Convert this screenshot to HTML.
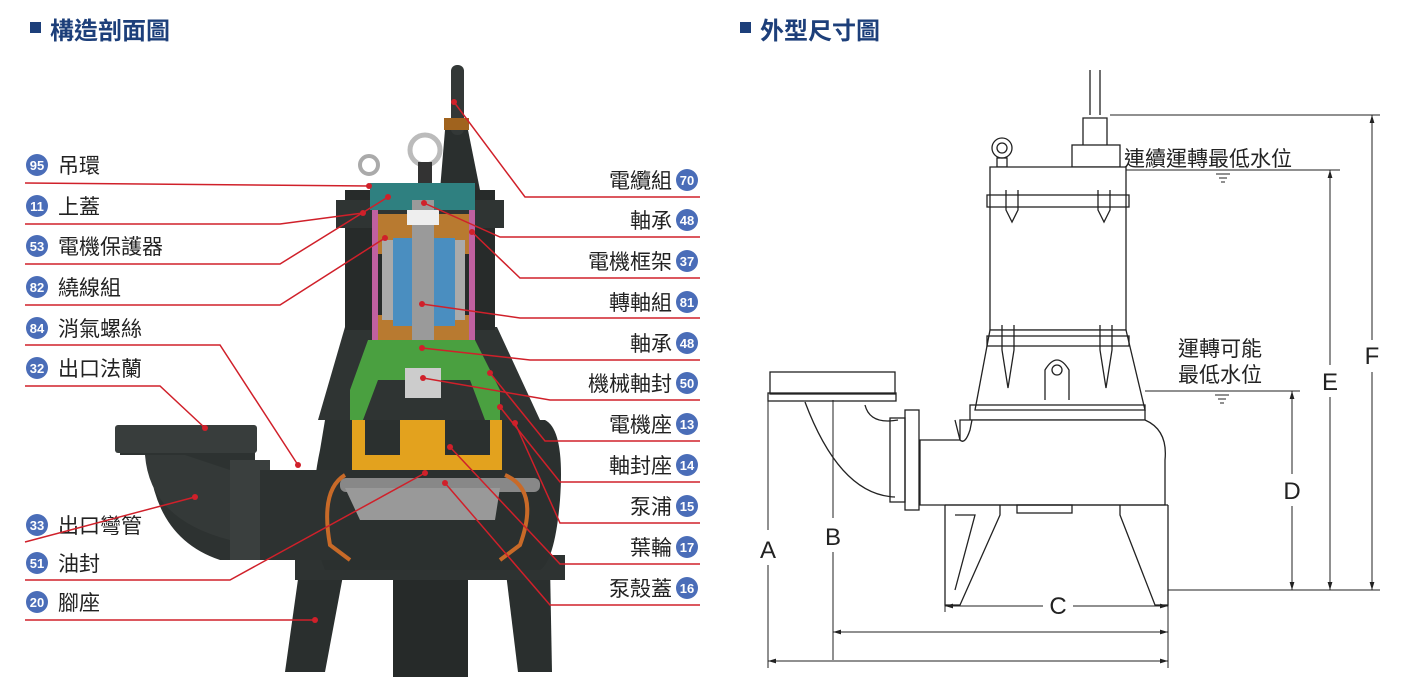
<!DOCTYPE html>
<html><head><meta charset="utf-8"><style>
body{margin:0;width:1423px;height:699px;background:#fff;overflow:hidden;font-family:"Liberation Sans","Noto Sans CJK TC",sans-serif}
svg{position:absolute;left:0;top:0}
</style></head><body>
<svg width="1423" height="699" viewBox="0 0 1423 699" font-family="Liberation Sans, Noto Sans CJK TC, sans-serif">
<defs>
<marker id="ar" viewBox="0 0 10 10" refX="10" refY="5" markerWidth="8" markerHeight="8" orient="auto-start-reverse"><path d="M0 2 L10 5 L0 8 Z" fill="#222"/></marker>
</defs>
<rect x="30" y="22" width="11" height="11" fill="#1d3f7a"/>
<text x="50" y="39" font-size="24" font-weight="bold" fill="#1d3f7a">構造剖面圖</text>
<rect x="740" y="22" width="11" height="11" fill="#1d3f7a"/>
<text x="760" y="39" font-size="24" font-weight="bold" fill="#1d3f7a">外型尺寸圖</text>

<!-- LEFT PUMP -->
<g>
<path d="M300 565 L345 565 L325 672 L285 672 Z" fill="#2a2f2e"/>
<path d="M505 565 L550 565 L552 672 L518 672 Z" fill="#2a2f2e"/>
<rect x="393" y="555" width="75" height="122" fill="#262a29"/>
<rect x="295" y="555" width="270" height="25" fill="#2e3332"/>
<path d="M120 440 L255 440 L255 470 L290 470 L290 560 L220 560 Q160 540 150 470 L150 455 L120 455 Z" fill="#2d3231"/>
<path d="M145 455 Q150 520 230 540 L230 470 L185 455 Z" fill="#343938"/>
<rect x="115" y="425" width="142" height="28" rx="3" fill="#383d3c"/>
<rect x="230" y="460" width="40" height="100" fill="#3a3f3e"/>
<path d="M325 420 L545 420 Q565 430 560 500 Q555 560 540 570 L325 570 Q305 520 320 450 Z" fill="#2b302f"/>
<rect x="260" y="470" width="80" height="90" fill="#2d3231"/>
<path d="M345 327 L497 327 L540 420 L318 420 Z" fill="#2f3433"/>
<rect x="345" y="190" width="150" height="140" fill="#272b2a"/>
<rect x="336" y="200" width="168" height="28" fill="#2f3433"/>
<path d="M440 190 L445 130 L468 130 L480 190 Z" fill="#2a2f2e"/>
<rect x="451" y="65" width="13" height="70" rx="6" fill="#333837"/>
<rect x="444" y="118" width="25" height="12" fill="#a0631e"/>
<circle cx="369" cy="165" r="9" fill="none" stroke="#aaa" stroke-width="4"/>
<circle cx="425" cy="150" r="15" fill="none" stroke="#bbb" stroke-width="5"/>
<rect x="418" y="162" width="14" height="28" fill="#333"/>
<rect x="370" y="183" width="105" height="27" fill="#2f8080"/>
<rect x="372" y="210" width="6" height="130" fill="#c060a0"/>
<rect x="469" y="210" width="6" height="130" fill="#c060a0"/>
<rect x="378" y="214" width="91" height="40" fill="#b87a30"/>
<rect x="378" y="315" width="91" height="30" fill="#b87a30"/>
<rect x="382" y="240" width="83" height="80" fill="#aaa"/>
<rect x="393" y="238" width="62" height="88" fill="#4a8ec0"/>
<rect x="412" y="200" width="22" height="180" fill="#9a9a9a"/>
<rect x="407" y="210" width="32" height="15" fill="#eee"/>
<rect x="404" y="345" width="38" height="20" fill="#eee"/>
<path d="M368 340 L475 340 L500 390 L500 420 L485 420 L470 380 L378 380 L363 420 L350 420 L350 390 Z" fill="#4aa040"/>
<rect x="405" y="368" width="36" height="30" fill="#ccc"/>
<path d="M352 420 L365 420 L365 455 L400 455 L400 420 L445 420 L445 455 L490 455 L490 420 L502 420 L502 470 L352 470 Z" fill="#e3a21e"/>
<rect x="340" y="478" width="200" height="14" rx="6" fill="#888"/>
<path d="M345 488 L500 488 L495 520 L360 520 Z" fill="#999"/>
<path d="M345 475 Q320 490 330 545 L350 560" fill="none" stroke="#c86a28" stroke-width="4"/>
<path d="M505 475 Q540 490 520 545 L500 560" fill="none" stroke="#c86a28" stroke-width="4"/>
</g>

<g font-size="21" fill="#222">
<g fill="#4a6db8">
<circle cx="37" cy="165" r="11"/><circle cx="37" cy="206" r="11"/><circle cx="37" cy="246" r="11"/><circle cx="37" cy="287" r="11"/><circle cx="37" cy="328" r="11"/><circle cx="37" cy="368" r="11"/><circle cx="37" cy="525" r="11"/><circle cx="37" cy="563" r="11"/><circle cx="37" cy="602" r="11"/>
</g>
<g fill="#fff" font-size="13" font-weight="bold" text-anchor="middle">
<text x="37" y="170">95</text><text x="37" y="211">11</text><text x="37" y="251">53</text><text x="37" y="292">82</text><text x="37" y="333">84</text><text x="37" y="373">32</text><text x="37" y="530">33</text><text x="37" y="568">51</text><text x="37" y="607">20</text>
</g>
<text x="58" y="173">吊環</text><text x="58" y="214">上蓋</text><text x="58" y="254">電機保護器</text><text x="58" y="295">繞線組</text><text x="58" y="336">消氣螺絲</text><text x="58" y="376">出口法蘭</text><text x="58" y="533">出口彎管</text><text x="58" y="571">油封</text><text x="58" y="610">腳座</text>
</g>
<g stroke="#d0202a" stroke-width="1.5" fill="none">
<path d="M25 183 L369 186"/>
<path d="M25 224 L280 224 L363 213"/>
<path d="M25 264 L280 264 L388 197"/>
<path d="M25 305 L280 305 L385 238"/>
<path d="M25 345 L220 345 L298 465"/>
<path d="M25 386 L160 386 L205 428"/>
<path d="M25 542 L195 497"/>
<path d="M25 580 L230 580 L425 473"/>
<path d="M25 620 L315 620"/>
</g>
<g fill="#d0202a"><circle cx="369" cy="186" r="3"/><circle cx="363" cy="213" r="3"/><circle cx="388" cy="197" r="3"/><circle cx="385" cy="238" r="3"/><circle cx="298" cy="465" r="3"/><circle cx="205" cy="428" r="3"/><circle cx="195" cy="497" r="3"/><circle cx="425" cy="473" r="3"/><circle cx="315" cy="620" r="3"/></g>

<g font-size="21" fill="#222" text-anchor="end">
<text x="672" y="188">電纜組</text><text x="672" y="228">軸承</text><text x="672" y="269">電機框架</text><text x="672" y="310">轉軸組</text><text x="672" y="351">軸承</text><text x="672" y="391">機械軸封</text><text x="672" y="432">電機座</text><text x="672" y="473">軸封座</text><text x="672" y="514">泵浦</text><text x="672" y="555">葉輪</text><text x="672" y="596">泵殼蓋</text>
</g>
<g fill="#4a6db8"><circle cx="687" cy="180" r="11"/><circle cx="687" cy="220" r="11"/><circle cx="687" cy="261" r="11"/><circle cx="687" cy="302" r="11"/><circle cx="687" cy="343" r="11"/><circle cx="687" cy="383" r="11"/><circle cx="687" cy="424" r="11"/><circle cx="687" cy="465" r="11"/><circle cx="687" cy="506" r="11"/><circle cx="687" cy="547" r="11"/><circle cx="687" cy="588" r="11"/></g>
<g fill="#fff" font-size="13" font-weight="bold" text-anchor="middle">
<text x="687" y="185">70</text><text x="687" y="225">48</text><text x="687" y="266">37</text><text x="687" y="307">81</text><text x="687" y="348">48</text><text x="687" y="388">50</text><text x="687" y="429">13</text><text x="687" y="470">14</text><text x="687" y="511">15</text><text x="687" y="552">17</text><text x="687" y="593">16</text>
</g>
<g stroke="#d0202a" stroke-width="1.5" fill="none">
<path d="M454 102 L525 197 L700 197"/>
<path d="M424 203 L500 237 L700 237"/>
<path d="M472 232 L520 278 L700 278"/>
<path d="M422 304 L520 318 L700 318"/>
<path d="M422 348 L530 360 L700 360"/>
<path d="M423 378 L550 400 L700 400"/>
<path d="M490 373 L545 441 L700 441"/>
<path d="M500 407 L560 482 L700 482"/>
<path d="M515 423 L560 523 L700 523"/>
<path d="M450 447 L560 564 L700 564"/>
<path d="M445 483 L550 605 L700 605"/>
</g>
<g fill="#d0202a"><circle cx="454" cy="102" r="3"/><circle cx="424" cy="203" r="3"/><circle cx="472" cy="232" r="3"/><circle cx="422" cy="304" r="3"/><circle cx="422" cy="348" r="3"/><circle cx="423" cy="378" r="3"/><circle cx="490" cy="373" r="3"/><circle cx="500" cy="407" r="3"/><circle cx="515" cy="423" r="3"/><circle cx="450" cy="447" r="3"/><circle cx="445" cy="483" r="3"/></g>

<!-- RIGHT DRAWING -->
<g stroke="#222" stroke-width="1.3" fill="none">
<line x1="1090" y1="70" x2="1090" y2="115"/><line x1="1100" y1="70" x2="1100" y2="115"/>
<path d="M1083 145 L1083 118 L1107 118 L1107 145"/>
<rect x="1072" y="145" width="48" height="22"/>
<circle cx="1002" cy="148" r="10"/><circle cx="1002" cy="148" r="5"/>
<rect x="997" y="158" width="10" height="9"/>
<path d="M990 167 L1126 167 L1126 330 L990 330 Z" fill="#fff"/>
<rect x="987" y="195" width="142" height="12"/>
<path d="M1006 190 L1006 210 L1012 222 L1018 210 L1018 190"/>
<path d="M1098 190 L1098 210 L1104 222 L1110 210 L1110 190"/>
<path d="M990 330 L1126 330 L1145 410 L975 410 Z" fill="#fff"/>
<rect x="987" y="336" width="142" height="10"/>
<path d="M1002 325 L1002 350 L1008 388 L1014 350 L1014 325"/>
<path d="M1100 325 L1100 350 L1106 388 L1112 350 L1112 325"/>
<path d="M1045 400 L1045 370 Q1057 350 1069 370 L1069 400"/><circle cx="1057" cy="370" r="5"/>
<rect x="970" y="405" width="175" height="15"/>
<path d="M920 440 L960 440 L960 420 L1145 420 Q1168 430 1165 460 L1165 505 L920 505 Z" fill="#fff"/>
<path d="M955 420 L960 440 Q965 445 970 430 L972 420"/>
<rect x="905" y="410" width="14" height="100"/>
<rect x="890" y="418" width="15" height="84"/>
<path d="M898 420 Q870 425 865 405"/>
<path d="M895 497 Q840 495 805 402"/>
<rect x="770" y="372" width="125" height="22"/>
<rect x="768" y="393" width="128" height="8"/>
<path d="M945 505 L945 605 L960 605 L1000 515 L1000 505"/>
<path d="M955 515 L975 515 L955 590"/>
<path d="M1120 505 L1120 515 L1155 605 L1168 605 L1168 505"/>
<path d="M945 505 L1168 505"/>
<rect x="1017" y="505" width="55" height="8"/>
</g>
<g stroke="#222" stroke-width="1" fill="none">
<line x1="1110" y1="115" x2="1380" y2="115"/>
<line x1="1126" y1="170" x2="1340" y2="170"/>
<line x1="1145" y1="391" x2="1300" y2="391"/>
<line x1="1168" y1="590" x2="1380" y2="590"/>
<line x1="1372" y1="340" x2="1372" y2="115" marker-end="url(#ar)"/><line x1="1372" y1="372" x2="1372" y2="590" marker-end="url(#ar)"/>
<line x1="1330" y1="365" x2="1330" y2="170" marker-end="url(#ar)"/><line x1="1330" y1="397" x2="1330" y2="590" marker-end="url(#ar)"/>
<line x1="1292" y1="474" x2="1292" y2="391" marker-end="url(#ar)"/><line x1="1292" y1="506" x2="1292" y2="590" marker-end="url(#ar)"/>
<line x1="768" y1="400" x2="768" y2="530"/><line x1="768" y1="565" x2="768" y2="668"/>
<line x1="833" y1="400" x2="833" y2="518"/><line x1="833" y1="552" x2="833" y2="660"/>
<line x1="945" y1="600" x2="945" y2="612"/><line x1="1168" y1="600" x2="1168" y2="668"/>
<line x1="1043" y1="606" x2="945" y2="606" marker-end="url(#ar)"/><line x1="1073" y1="606" x2="1168" y2="606" marker-end="url(#ar)"/>
<line x1="833" y1="632" x2="1168" y2="632" marker-start="url(#ar)" marker-end="url(#ar)"/>
<line x1="768" y1="661" x2="1168" y2="661" marker-start="url(#ar)" marker-end="url(#ar)"/>
<line x1="1216" y1="174" x2="1230" y2="174"/><line x1="1219" y1="178" x2="1227" y2="178"/><line x1="1221" y1="182" x2="1225" y2="182"/>
<line x1="1215" y1="395" x2="1229" y2="395"/><line x1="1218" y1="399" x2="1226" y2="399"/><line x1="1220" y1="403" x2="1224" y2="403"/>
</g>
<g font-size="24" fill="#222" text-anchor="middle">
<text x="1372" y="364">F</text><text x="1330" y="390">E</text><text x="1292" y="499">D</text><text x="768" y="558">A</text><text x="833" y="545">B</text><text x="1058" y="614">C</text>
</g>
<g font-size="21" fill="#222">
<text x="1124" y="166">連續運轉最低水位</text>
<text x="1178" y="356">運轉可能</text>
<text x="1178" y="382">最低水位</text>
</g>
</svg>
</body></html>
